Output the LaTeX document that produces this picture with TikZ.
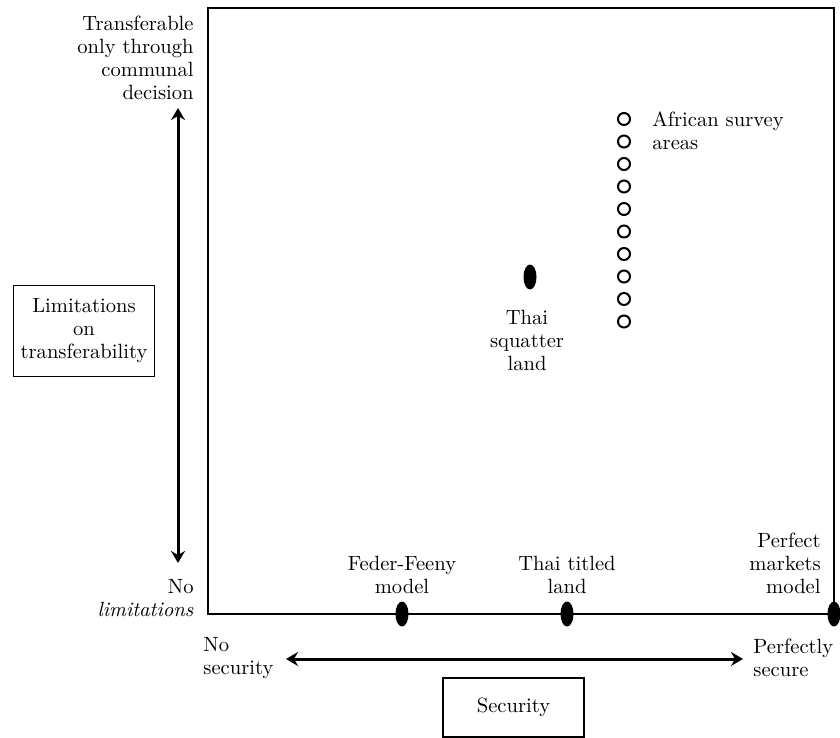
\documentclass[tikz,border=0pt]{standalone}
\usepackage{tikz}
\usetikzlibrary{arrows.meta,shapes.geometric}

\begin{document}
\begin{tikzpicture}[x=0.5pt,y=-0.5pt,font=\fontsize{10.3}{11.5}\selectfont]
\tikzstyle{lbl}=[inner sep=0pt]
\tikzstyle{boxlbl}=[rectangle,draw,line width=0.7pt,align=center,inner sep=0pt]
\tikzstyle{blob}=[ellipse,fill=black,inner sep=0pt,minimum width=6.5pt,minimum height=12.5pt]
\tikzstyle{ring}=[circle,draw,line width=1pt,inner sep=0pt,minimum size=6pt]
\tikzstyle{axis}=[line width=1.5pt,{Stealth[length=6pt,width=7pt,inset=2pt]}-{Stealth[length=6pt,width=7pt,inset=2pt]}]
\useasboundingbox (0,0) rectangle (840,738);
% frame
\draw[line width=0.8pt] (208,8) rectangle (834,614);
% vertical axis
\node[lbl, anchor=east, align=right] (transf) at (194,58) {Transferable\\only through\\communal\\decision};
\node[lbl, anchor=east, align=right] (nolim) at (194,598) {No\\\textit{limitations}};
\coordinate (vtop) at (178,108);
\coordinate (vbot) at (178,563);
\draw[axis] (vtop) -- (vbot);
\node[boxlbl, minimum width=70.5pt, minimum height=45.5pt] (limits) at (84,331) {Limitations\\on\\transferability};
% horizontal axis
\node[lbl, anchor=west, align=left] (nosec) at (203,658) {No\\security};
\node[lbl, anchor=west, align=left] (persec) at (753,658) {Perfectly\\secure};
\coordinate (hleft) at (286,659);
\coordinate (hright) at (743,659);
\draw[axis] (hleft) -- (hright);
\node[boxlbl, minimum width=70.5pt, minimum height=29.5pt] (security) at (513.5,707.5) {Security};
% points on the bottom edge
\node[blob] (feder) at (402,614) {};
\node[blob] (titled) at (567,614) {};
\node[blob] (perfect) at (834,614) {};
\node[lbl, align=center] (federlbl) at (402,575) {Feder-Feeny\\model};
\node[lbl, align=center] (titledlbl) at (567,575) {Thai titled\\land};
\node[lbl, anchor=east, align=right] (perfectlbl) at (821,563) {Perfect\\markets\\model};
% squatter land
\node[blob] (squat) at (530,277) {};
\node[lbl, align=center] (squatlbl) at (527,340) {Thai\\squatter\\land};
% African survey areas
\foreach \i in {0,...,9}
  \node[ring] (af\i) at (624,119+22.5*\i) {};
\node[lbl, anchor=west, align=left] (aflbl) at (652,130.5) {African survey\\areas};
\end{tikzpicture}
\end{document}
